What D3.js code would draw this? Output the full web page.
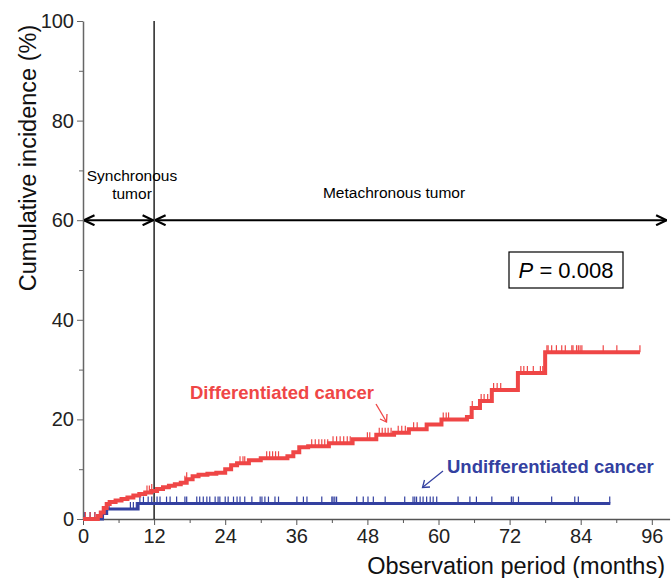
<!DOCTYPE html>
<html>
<head>
<meta charset="utf-8">
<script src="https://cdn.jsdelivr.net/npm/d3@7"></script>
<style>
  body { margin: 0; background: #fff; }
  text { font-family: "Liberation Sans", Arial, sans-serif; }
</style>
</head>
<body>
<div id="wrapper"></div>
<script>
// Data (months, cumulative incidence %)
const redTimes  = [0, 2.5, 3.0, 3.5, 4.0, 4.5, 5.5, 6.5, 7.5, 8.5, 9.5, 10.5, 11.5, 12.5, 13.5, 14.5, 15.5, 16.5, 17.5, 18.5, 19.5, 21.0, 22.5, 24.0, 25.0, 26.0, 28.0, 30.0, 34.5, 35.5, 36.5, 38.0, 41.5, 45.5, 49.5, 52.5, 55.0, 58.0, 60.5, 64.8, 65.6, 67.0, 69.0, 73.4, 78.0]
const redValues = [0, 0.6, 1.3, 2.2, 3.0, 3.4, 3.7, 4.0, 4.3, 4.7, 5.0, 5.3, 5.6, 6.0, 6.4, 6.7, 7.0, 7.3, 8.0, 8.6, 8.9, 9.1, 9.3, 10.0, 10.8, 11.2, 11.8, 12.2, 12.6, 13.4, 14.4, 14.6, 15.2, 16.0, 16.9, 17.3, 18.0, 19.0, 20.0, 20.5, 22.3, 23.7, 25.9, 29.3, 33.5]
const redEnd = 94
const redCensor = [0.4, 1.2, 2.0, 10.8, 11.2, 11.6, 17.2, 17.5, 26.5, 27.0, 27.3, 31.0, 31.5, 32.0, 32.5, 33.0, 38.6, 39.2, 39.8, 40.3, 40.8, 41.3, 42.2, 42.8, 43.4, 44.0, 44.6, 45.1, 48.0, 48.4, 50.0, 50.5, 51.0, 51.5, 52.0, 53.2, 53.8, 54.4, 55.8, 56.4, 60.8, 61.3, 61.7, 65.7, 67.2, 67.7, 68.3, 69.3, 69.9, 70.5, 73.9, 74.4, 75.0, 76.0, 77.2, 77.6, 78.3, 78.5, 79.1, 79.9, 80.8, 81.4, 82.5, 82.7, 83.3, 83.6, 83.9, 84.2, 87.8, 90.1, 94.0]

const blueTimes  = [0, 3.3, 4.0, 9.3]
const blueValues = [0, 1.1, 2.0, 3.1]
const blueEnd = 89
const blueCensor = [0.3, 1.2, 2.0, 2.9, 3.7, 4.4, 8.0, 8.5, 9.0, 9.6, 10.2, 11.0, 11.6, 12.5, 13.0, 14.1, 14.7, 15.8, 17.2, 17.5, 19.2, 19.7, 20.3, 20.9, 21.4, 22.3, 22.8, 23.1, 24.0, 24.5, 25.4, 26.0, 26.5, 27.3, 28.5, 29.9, 30.2, 30.7, 31.3, 32.4, 33.0, 36.1, 37.2, 37.8, 40.3, 42.0, 42.2, 42.5, 42.8, 46.2, 47.3, 48.1, 49.0, 51.0, 54.3, 55.7, 56.0, 56.3, 56.9, 57.4, 58.0, 58.6, 59.1, 59.7, 63.3, 65.3, 66.4, 69.0, 72.3, 72.6, 73.5, 79.1, 83.0, 83.6, 88.9]

const xTicks = [0, 12, 24, 36, 48, 60, 72, 84, 96]
const xMinorTicks = [6, 18, 30, 42, 54, 66, 78, 90]
const yTicks = [0, 20, 40, 60, 80, 100]
const yMinorTicks = [10, 30, 50, 70, 90]

const width = 672
const height = 578

const svg = d3.select('#wrapper')
  .append('svg')
    .attr('width', width)
    .attr('height', height)

const xScale = d3.scaleLinear()
  .domain([0, 99])
  .range([83, 83 + 99 * 5.925])

const yScale = d3.scaleLinear()
  .domain([0, 100])
  .range([519, 21])

// arrow marker
svg.append('defs').append('marker')
    .attr('id', 'chev')
    .attr('viewBox', '0 0 12 12')
    .attr('refX', 11.5)
    .attr('refY', 6)
    .attr('markerWidth', 12)
    .attr('markerHeight', 12)
    .attr('markerUnits', 'userSpaceOnUse')
    .attr('orient', 'auto-start-reverse')
  .append('path')
    .attr('d', 'M1,1 L11.5,6 L1,11')
    .attr('fill', 'none')
    .attr('stroke', '#000')
    .attr('stroke-width', 2.2)

// Axes
const yAxis = svg.append('g')
  .attr('transform', `translate(${xScale(0)},0)`)
  .call(d3.axisLeft(yScale).tickValues(yTicks).tickSize(6).tickSizeOuter(0).tickPadding(3))
yAxis.select('.domain').attr('stroke', '#666').attr('stroke-width', 1.5)
yAxis.selectAll('.tick line').attr('stroke', '#666')
yAxis.selectAll('.tick text').attr('font-size', 20).attr('fill', '#222')

svg.append('g')
  .attr('transform', `translate(${xScale(0)},0)`)
  .call(d3.axisLeft(yScale).tickValues(yMinorTicks).tickSize(4).tickFormat(''))
  .call(g => g.select('.domain').remove())
  .selectAll('.tick line').attr('stroke', '#666')

const xAxis = svg.append('g')
  .attr('transform', `translate(0,${yScale(0)})`)
  .call(d3.axisBottom(xScale).tickValues(xTicks).tickSize(6).tickSizeOuter(0).tickPadding(4))
xAxis.select('.domain').attr('stroke', '#555').attr('stroke-width', 1.5)
xAxis.selectAll('.tick line').attr('stroke', '#555')
xAxis.selectAll('.tick text').attr('font-size', 20).attr('fill', '#222')

svg.append('g')
  .attr('transform', `translate(0,${yScale(0)})`)
  .call(d3.axisBottom(xScale).tickValues(xMinorTicks).tickSize(4).tickFormat(''))
  .call(g => g.select('.domain').remove())
  .selectAll('.tick line').attr('stroke', '#555')

// Axis titles
svg.append('text')
  .attr('transform', `translate(36,${158}) rotate(-90)`)
  .attr('text-anchor', 'middle')
  .attr('font-size', 23.5)
  .attr('fill', '#111')
  .text('Cumulative incidence (%)')

svg.append('text')
  .attr('x', 665)
  .attr('y', 574)
  .attr('text-anchor', 'end')
  .attr('font-size', 23.5)
  .attr('fill', '#111')
  .text('Observation period (months)')

// Synchronous / metachronous divider
svg.append('line')
  .attr('x1', xScale(12)).attr('x2', xScale(12))
  .attr('y1', yScale(100)).attr('y2', yScale(0))
  .attr('stroke', '#000')
  .attr('stroke-width', 1.3)

svg.append('line')
  .attr('x1', xScale(0) + 1).attr('x2', xScale(12) - 1)
  .attr('y1', yScale(60)).attr('y2', yScale(60))
  .attr('stroke', '#000').attr('stroke-width', 2)
  .attr('marker-start', 'url(#chev)')
  .attr('marker-end', 'url(#chev)')

svg.append('line')
  .attr('x1', xScale(12) + 1).attr('x2', xScale(98.5))
  .attr('y1', yScale(60)).attr('y2', yScale(60))
  .attr('stroke', '#000').attr('stroke-width', 2)
  .attr('marker-start', 'url(#chev)')
  .attr('marker-end', 'url(#chev)')

svg.append('text')
  .attr('x', 132).attr('y', 181)
  .attr('text-anchor', 'middle')
  .attr('font-size', 15.5)
  .text('Synchronous')
svg.append('text')
  .attr('x', 132).attr('y', 199)
  .attr('text-anchor', 'middle')
  .attr('font-size', 15.5)
  .text('tumor')
svg.append('text')
  .attr('x', 394).attr('y', 198)
  .attr('text-anchor', 'middle')
  .attr('font-size', 15.5)
  .text('Metachronous tumor')

// P value box
svg.append('rect')
  .attr('x', 509).attr('y', 252)
  .attr('width', 114).attr('height', 36)
  .attr('fill', '#fff')
  .attr('stroke', '#000')
  .attr('stroke-width', 1.2)
const pText = svg.append('text')
  .attr('x', 566).attr('y', 278)
  .attr('text-anchor', 'middle')
  .attr('font-size', 22)
pText.append('tspan').attr('font-style', 'italic').text('P')
pText.append('tspan').text(' = 0.008')

// Curves
const valueAt = (times, values, t) => {
  let v = values[0]
  times.forEach((tt, i) => { if (tt <= t) v = values[i] })
  return v
}

const drawCurve = (times, values, end, censor, color, lw) => {
  const pts = times.map((t, i) => [t, values[i]])
  pts.push([end, values[values.length - 1]])
  const lineGenerator = d3.line()
    .x(d => xScale(d[0]))
    .y(d => yScale(d[1]))
    .curve(d3.curveStepAfter)
  svg.append('path')
    .attr('d', lineGenerator(pts))
    .attr('fill', 'none')
    .attr('stroke', color)
    .attr('stroke-width', lw)
  svg.append('g')
    .selectAll('line')
    .data(censor)
    .join('line')
      .attr('x1', d => xScale(d)).attr('x2', d => xScale(d))
      .attr('y1', d => yScale(valueAt(times, values, d)))
      .attr('y2', d => yScale(valueAt(times, values, d)) - 7)
      .attr('stroke', color)
      .attr('stroke-width', 1.2)
}

const red = '#ef4646'
const blue = '#3340a0'
drawCurve(blueTimes, blueValues, blueEnd, blueCensor, blue, 3)
drawCurve(redTimes, redValues, redEnd, redCensor, red, 4)

// Labels with arrows
svg.append('text')
  .attr('x', 190).attr('y', 399)
  .attr('font-size', 18.5)
  .attr('font-weight', 'bold')
  .attr('fill', red)
  .text('Differentiated cancer')
svg.append('line')
  .attr('x1', 376).attr('y1', 404)
  .attr('x2', 386).attr('y2', 421)
  .attr('stroke', red).attr('stroke-width', 1.3)
svg.append('path')
  .attr('d', 'M380,419 L386.5,422 L387,414')
  .attr('fill', 'none').attr('stroke', red).attr('stroke-width', 1.3)

svg.append('text')
  .attr('x', 447).attr('y', 473)
  .attr('font-size', 18.5)
  .attr('font-weight', 'bold')
  .attr('fill', blue)
  .text('Undifferentiated cancer')
svg.append('line')
  .attr('x1', 443).attr('y1', 471)
  .attr('x2', 423).attr('y2', 487)
  .attr('stroke', blue).attr('stroke-width', 1.3)
svg.append('path')
  .attr('d', 'M424.5,480 L422.5,487.5 L430,487')
  .attr('fill', 'none').attr('stroke', blue).attr('stroke-width', 1.3)
</script>
</body>
</html>
